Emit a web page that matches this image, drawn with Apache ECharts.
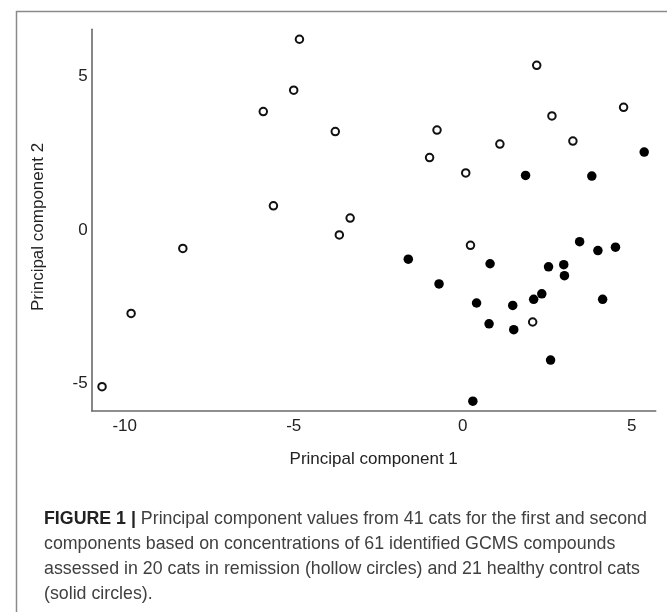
<!DOCTYPE html>
<html>
<head>
<meta charset="utf-8">
<script src="https://cdn.jsdelivr.net/npm/echarts@6/dist/echarts.min.js"></script>
<style>
html,body{margin:0;padding:0;background:#fff;}
#c{width:667px;height:612px;}
</style>
</head>
<body>
<div id="c"></div>
<script>
// Remission cats (hollow circles)
var hollowX = [-4.83, -5.00, -5.90, -3.77, -5.60, -3.33, -3.65, -8.28, -9.81, -10.67, 2.19, 4.76, 2.64, -0.76, 1.10, 3.26, -0.98, 0.09, 0.23, 2.07];
var hollowY = [6.22, 4.56, 3.86, 3.21, 0.79, 0.39, -0.16, -0.60, -2.72, -5.11, 5.37, 4.00, 3.72, 3.26, 2.80, 2.90, 2.36, 1.86, -0.50, -3.00];
// Healthy control cats (solid circles)
var solidX = [5.37, 1.86, 3.82, 3.46, 4.00, 4.52, -1.61, 0.81, 2.54, 2.99, 3.01, -0.70, 2.34, 2.10, 4.14, 0.41, 1.48, 0.78, 1.51, 2.60, 0.30];
var solidY = [2.54, 1.78, 1.76, -0.38, -0.67, -0.56, -0.95, -1.10, -1.20, -1.13, -1.49, -1.76, -2.08, -2.26, -2.26, -2.38, -2.46, -3.06, -3.25, -4.24, -5.58];
var xTicks = [-10, -5, 0, 5];
var yTicks = [-5, 0, 5];
var xName = 'Principal component 1';
var yName = 'Principal component 2';
var captionLines = [
  '{b|FIGURE 1 |} Principal component values from 41 cats for the first and second',
  'components based on concentrations of 61 identified GCMS compounds',
  'assessed in 20 cats in remission (hollow circles) and 21 healthy control cats',
  '(solid circles).'
];

function pairs(xs, ys){ return xs.map(function(x,i){ return [x, ys[i]]; }); }

var chart = echarts.init(document.getElementById('c'), null, {renderer:'canvas'});
var font = '"Liberation Sans", Arial, Helvetica, sans-serif';
var graphics = [{
  type:'rect', left:14, top:9, silent:true,
  shape:{x:0, y:0, width:700, height:650},
  style:{fill:'none', stroke:'#8a8a8a', lineWidth:1.5}
}, {
  type:'text', x:38, y:227, rotation:Math.PI/2, silent:true,
  style:{text:yName, fill:'#222', font:'17px ' + font, align:'center', verticalAlign:'middle'}
}];
var lineTops = [510, 535, 560, 585];
captionLines.forEach(function(t, i){
  graphics.push({
    type:'text', left:44, top:lineTops[i], silent:true,
    style:{
      text:t, fill:'#404040', font:'17.8px ' + font,
      rich:{ b:{ fontWeight:'bold', fontSize:17.8, fontFamily:font, fill:'#222' } }
    }
  });
});

chart.setOption({
  animation:false,
  backgroundColor:'#fff',
  grid:{left:91.7, right:11.3, top:29.3, bottom:201.3, containLabel:false},
  xAxis:{
    type:'value', min:-10.976, max:5.71,
    name:xName, nameLocation:'middle', nameGap:40,
    nameTextStyle:{fontSize:17, color:'#222', fontFamily:font},
    axisLine:{show:true, onZero:false, lineStyle:{color:'#6a6a6a', width:1.6}},
    axisTick:{show:false},
    splitLine:{show:false},
    axisLabel:{customValues:xTicks, fontSize:17, color:'#222', fontFamily:font, margin:7}
  },
  yAxis:{
    type:'value', min:-5.892, max:6.544,
    axisLine:{show:true, onZero:false, lineStyle:{color:'#6a6a6a', width:1.6}},
    axisTick:{show:false},
    splitLine:{show:false},
    axisLabel:{customValues:yTicks, fontSize:17, color:'#222', fontFamily:font, margin:4}
  },
  series:[
    {
      type:'scatter', name:'remission', data:pairs(hollowX, hollowY),
      symbol:'circle', symbolSize:7.5,
      itemStyle:{color:'#fff', borderColor:'#111', borderWidth:2, opacity:1}
    },
    {
      type:'scatter', name:'healthy', data:pairs(solidX, solidY),
      symbol:'circle', symbolSize:9.5,
      itemStyle:{color:'#000', opacity:1}
    }
  ],
  graphic:graphics
});
</script>
</body>
</html>
